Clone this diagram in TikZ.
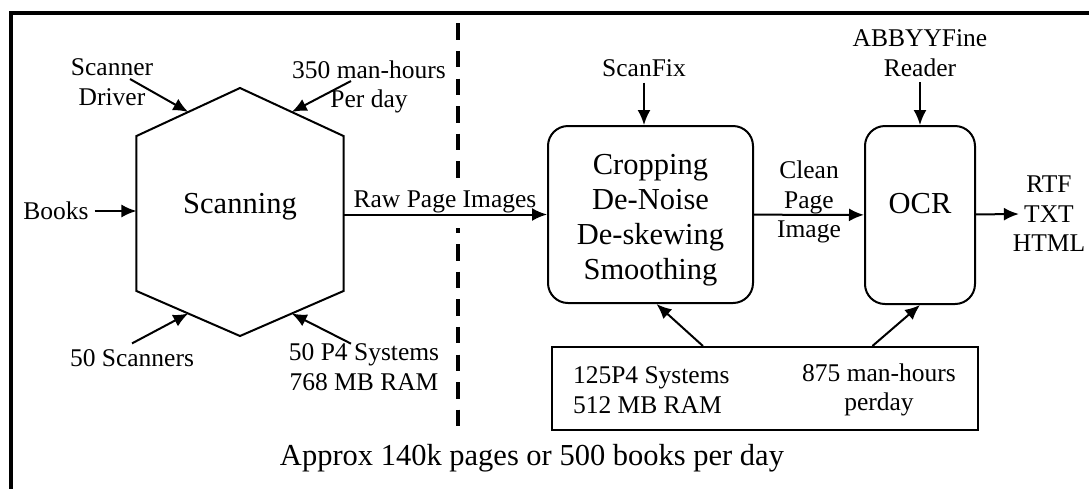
\documentclass[tikz,border=0pt]{standalone}
\usepackage{fontspec}
\setmainfont{Liberation Serif}
\usetikzlibrary{arrows.meta,calc}

\begin{document}
\begin{tikzpicture}[x=0.4pt, y=-0.4pt, line width=0.8pt,
  >={Latex[length=6pt,width=5.2pt]},
  lbl/.style={align=center, inner sep=2pt, font=\fontsize{10.2}{11.8}\selectfont},
  big/.style={align=center, font=\fontsize{12.2}{14}\selectfont},
  proc/.style={draw, rounded corners=8pt, inner sep=0pt, align=center, font=\fontsize{12.2}{14}\selectfont}]
\useasboundingbox (0,0) rectangle (1089,488);
% frame, cut by the page edge
\draw[line width=1.6pt] (10.5,13) rectangle (1120,520);
\draw[line width=1.6pt, dash pattern=on 6.6pt off 4.44pt] (457.5,23.3) -- (457.5,427);

% scanning
\node[minimum width=82pt, minimum height=98.4pt, inner sep=0pt] (scan) at (240,212) {};
\draw (scan.north) -- ($(scan.north west)+(0,48)$) coordinate (hnw)
  -- ($(scan.south west)+(0,-45)$) coordinate (hsw) -- (scan.south)
  -- ($(scan.south east)+(0,-45)$) coordinate (hse)
  -- ($(scan.north east)+(0,48)$) coordinate (hne) -- cycle;
\node[big] (scantxt) at (240,207) {Scanning};

\node[lbl] (drv) at (112,82) {Scanner\\Driver};
\node[lbl] (mhr) at (369,87) {350 man-hours\\Per day};
\node[lbl] (books) at (56,211) {Books};
\node[lbl] (nscan) at (132,358) {50 Scanners};
\node[lbl] (sys) at (364,367) {50 P4 Systems\\768 MB RAM};
\path[->] ($(drv.center)+(18,-3)$) edge ($(scan.north)!0.5!(hnw)$);
\path[->] ($(mhr.center)+(-18,-6)$) edge ($(scan.north)!0.5!(hne)$);
\path[->] (books) edge (books -| scan.west);
\path[->] (nscan.north) edge ($(scan.south)!0.5!(hsw)$);
\path[->] ($(sys.north)+(-13,6)$) edge ($(scan.south)!0.5!(hse)$);

% cleaning and ocr
\node[proc, minimum width=82pt, minimum height=70.8pt] (crop) at (650.5,214.5) {\rule{0pt}{12.3pt}Cropping\\De-Noise\\De-skewing\\Smoothing};
\node[proc, minimum width=44pt, minimum height=71.2pt, text depth=9.6pt] (ocr) at (920,215) {OCR};
\node[lbl, fill=white, inner xsep=1pt, inner ysep=1.5pt, text height=6.8pt, text depth=7pt, anchor=base] (raw) at (445,207) {Raw Page Images};
\path[->] (scan.east |- crop.west) edge (crop.west);

\node[lbl] (fix) at (644,68) {ScanFix};
\node[lbl] (abbyy) at (920,53) {ABBYYFine\\Reader};
\node[lbl] (fmt) at (1049,214) {RTF\\TXT\\HTML};
\path[->] (fix) edge (fix |- crop.north);
\path[->] (abbyy) edge (ocr);
\path[->] (crop) edge node[lbl, yshift=5pt] {Clean\\Page\\Image} (ocr);
\path[->] (ocr) edge ([xshift=4.8pt]fmt.west);

% resources
\node[draw, minimum width=170.4pt, minimum height=33.2pt] (res) at (765,388.5) {};
\node[lbl, align=left, anchor=west] (ressys) at (567,390) {125P4 Systems\\512 MB RAM};
\node[lbl] (resmh) at (879,390) {875 man-hours\\perday};
\path[->] ($(res.north west)!0.355!(res.north east)$) edge ($(crop.south)+(6,0)$);
\path[->] ($(res.north west)!0.751!(res.north east)$) edge (ocr.south);

\node[big] (note) at (532,458) {Approx 140k pages or 500 books per day};
\end{tikzpicture}
\end{document}
